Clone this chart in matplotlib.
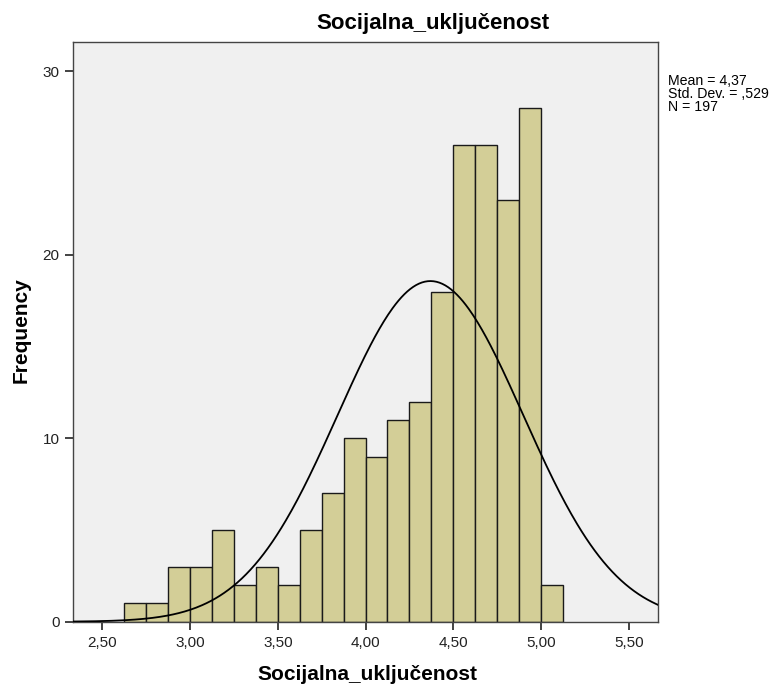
import matplotlib
matplotlib.use("Agg")
import matplotlib.pyplot as plt
import numpy as np

plt.rcParams['font.family'] = ['Liberation Sans', 'DejaVu Sans']

# histogram bins (width 0.125) and counts
bin_edges = [2.625, 2.75, 2.875, 3.0, 3.125, 3.25, 3.375, 3.5, 3.625, 3.75, 3.875,
             4.0, 4.125, 4.25, 4.375, 4.5, 4.625, 4.75, 4.875, 5.0, 5.125]
counts = [1, 1, 3, 3, 5, 2, 3, 2, 5, 7, 10, 9, 11, 12, 18, 26, 26, 23, 28, 2]
mean = 4.37
std = 0.529
n = 197

x_ticks = [2.5, 3.0, 3.5, 4.0, 4.5, 5.0, 5.5]
x_labels = ['2,50', '3,00', '3,50', '4,00', '4,50', '5,00', '5,50']
y_ticks = [0, 10, 20, 30]

fig = plt.figure(figsize=(7.77, 6.86), dpi=100)
ax = fig.add_axes([0.0944, 0.0937, 0.752, 0.845])
ax.set_facecolor('#f0f0f0')

lefts = np.array(bin_edges[:-1])
widths = np.diff(bin_edges)
ax.bar(lefts, counts, width=widths, align='edge', color='#d3ce97',
       edgecolor='#1a1a1a', linewidth=1.0, zorder=2)

# normal curve scaled to the histogram
bw = widths[0]
xs = np.linspace(2.335, 5.665, 400)
ys = n * bw * np.exp(-0.5 * ((xs - mean) / std) ** 2) / (std * np.sqrt(2 * np.pi))
ax.plot(xs, ys, color='black', linewidth=1.3, zorder=3)

ax.set_xlim(2.335, 5.665)
ax.set_ylim(0, 31.6)
ax.set_xticks(x_ticks)
ax.set_xticklabels(x_labels)
ax.set_yticks(y_ticks)
ax.tick_params(direction='out', length=6, width=1.2, labelsize=11,
               colors='#222222', top=False, right=False, pad=4)
for s in ax.spines.values():
    s.set_color('#444444')
    s.set_linewidth(1.0)

fig.text(367 / 777, 1 - 675 / 686, 'Socijalna_uključenost', ha='center', va='center',
         fontsize=15, fontweight='bold')
fig.text(21 / 777, 1 - 330 / 686, 'Frequency', ha='center', va='center',
         rotation=90, fontsize=15, fontweight='bold')

fig.text(433 / 777, 1 - 23 / 686, 'Socijalna_uključenost', ha='center', va='center',
         fontsize=16, fontweight='bold')
fig.text(668 / 777, 1 - 74 / 686,
         'Mean = 4,37\nStd. Dev. = ,529\nN = 197',
         ha='left', va='top', fontsize=10.2, linespacing=0.92)

fig.savefig('out.png', dpi=100)
